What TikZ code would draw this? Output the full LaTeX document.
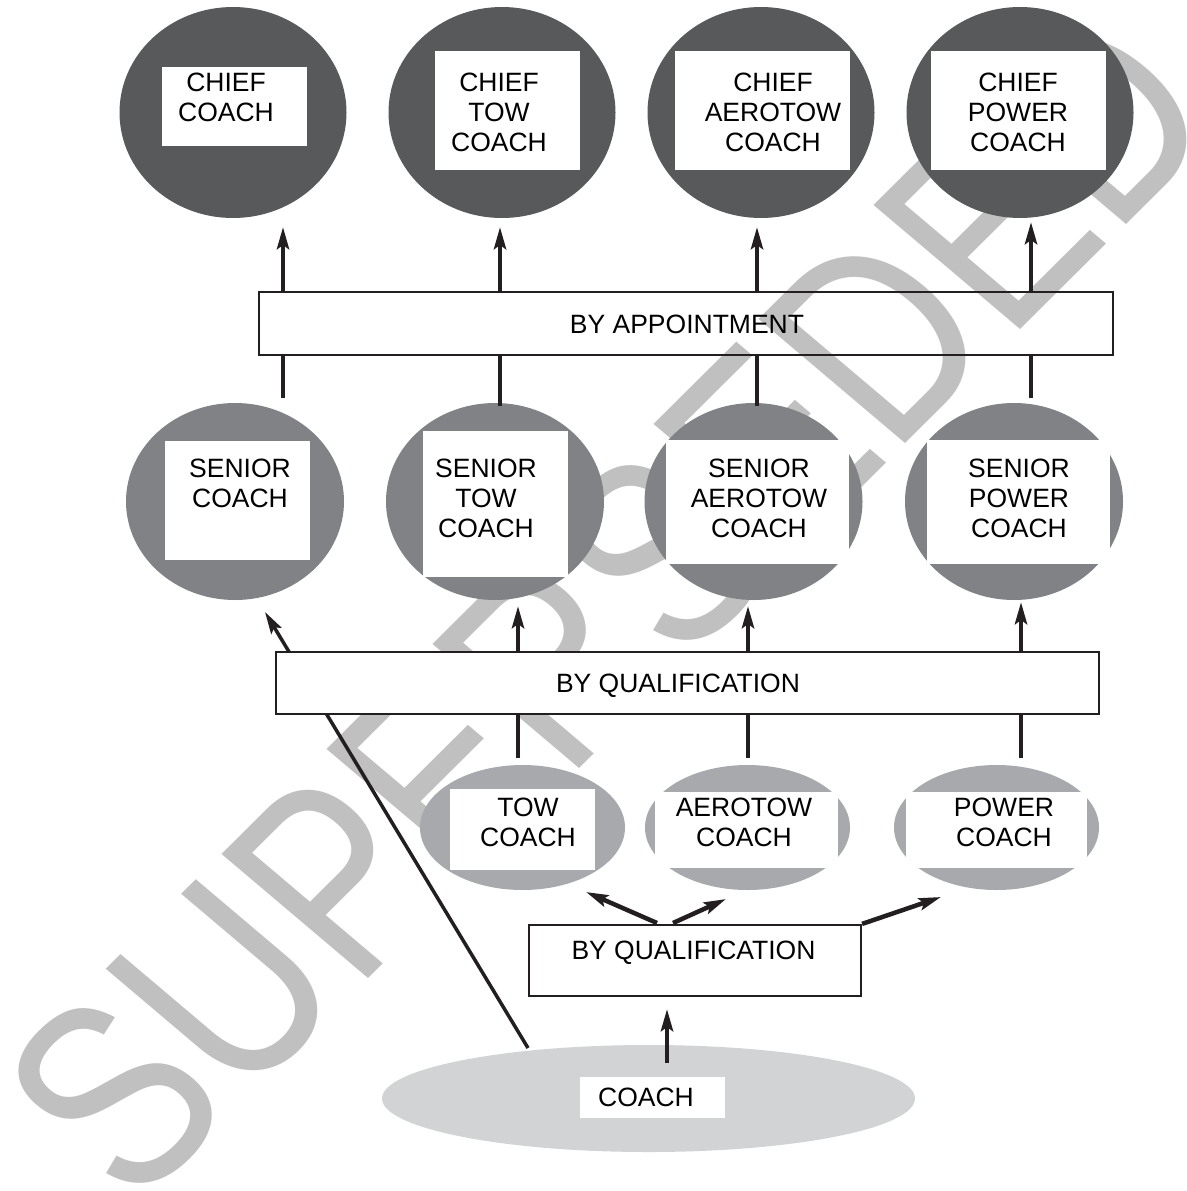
\documentclass[tikz,border=0pt]{standalone}
\usepackage{fontspec}
\setmainfont{Liberation Sans}
\usetikzlibrary{shapes.geometric,arrows.meta}
\definecolor{chiefc}{HTML}{58595B}
\definecolor{seniorc}{HTML}{808285}
\definecolor{lowc}{HTML}{A7A9AC}
\definecolor{coachc}{HTML}{D1D3D4}
\definecolor{wmc}{HTML}{C0C0C0}
\definecolor{ink}{HTML}{231F20}
\begin{document}
\begin{tikzpicture}[x=1pt,y=-1pt,
  wm/.style={cm={0.5966,0.5931,-0.8010,0.6782,(0,0)},text=wmc,inner sep=0,font=\fontsize{266}{266}\selectfont},
  blob/.style={ellipse,inner sep=0,draw=none},
  chief/.style={blob,fill=chiefc,minimum width=227pt,minimum height=211pt},
  senior/.style={blob,fill=seniorc,minimum width=218pt,minimum height=197pt},
  low/.style={blob,fill=lowc,minimum width=205pt,minimum height=125pt},
  base/.style={blob,fill=coachc,minimum width=533pt,minimum height=107pt},
  wbox/.style={rectangle,fill=white,draw=none,inner sep=0},
  frame/.style={rectangle,draw=ink,line width=2.5pt,inner sep=0},
  txt/.style={inner sep=0,align=center,text=black,font=\fontsize{26.5}{30}\selectfont},
  ln/.style={draw=ink,line width=4.5pt},
  arr/.style={ln,-{Stealth[length=22pt,width=12pt,inset=4pt]}},
  diag/.style={draw=ink,line width=3.5pt,-{Stealth[length=22pt,width=12pt,inset=4pt]}}
]
\fill[white] (0,0) rectangle (1186,1191);
\useasboundingbox (0,0) rectangle (1186,1191);

% watermark
\node[wm] (wmk) at (608,605) {SUPERSEDED};

% chief row
\node[chief] (c1) at (233,112.5) {};
\node[chief] (c2) at (502,112.5) {};
\node[chief] (c3) at (761,112.5) {};
\node[chief] (c4) at (1020,112.5) {};
\node[wbox,minimum width=145pt,minimum height=79pt] (c1b) at (234.5,106.5) {};
\node[wbox,minimum width=145pt,minimum height=119pt] (c2b) at (507.5,110.5) {};
\node[wbox,minimum width=175pt,minimum height=119pt] (c3b) at (762.5,110.5) {};
\node[wbox,minimum width=175pt,minimum height=119pt] (c4b) at (1018.5,110.5) {};
\node[txt] (c1t) at (226,97) {CHIEF\\COACH};
\node[txt] (c2t) at (499,112) {CHIEF\\TOW\\COACH};
\node[txt] (c3t) at (773,112) {CHIEF\\AEROTOW\\COACH};
\node[txt] (c4t) at (1018,112) {CHIEF\\POWER\\COACH};

% by appointment
\node[frame,minimum width=854pt,minimum height=63pt] (apt) at (686,323.5) {};
\node[txt] (aptt) at (687,324) {BY APPOINTMENT};

% senior row
\node[senior] (s1) at (235,501.5) {};
\node[senior] (s2) at (495,501.5) {};
\node[senior] (s3) at (753.5,501.5) {};
\node[senior] (s4) at (1014,501.5) {};
\node[wbox,minimum width=145pt,minimum height=119pt] (s1b) at (237.5,500.5) {};
\node[wbox,minimum width=145pt,minimum height=146pt] (s2b) at (495.5,504) {};
\node[wbox,minimum width=183pt,minimum height=124pt] (s3b) at (757.5,502) {};
\node[wbox,minimum width=183pt,minimum height=124pt] (s4b) at (1018.5,502) {};
\node[txt] (s1t) at (240,483) {SENIOR\\COACH};
\node[txt] (s2t) at (486,498) {SENIOR\\TOW\\COACH};
\node[txt] (s3t) at (759,498) {SENIOR\\AEROTOW\\COACH};
\node[txt] (s4t) at (1019,498) {SENIOR\\POWER\\COACH};

% appointment connectors
\coordinate (ua1) at (283,227);
\coordinate (ua2) at (500,227);
\coordinate (ua3) at (757,227);
\coordinate (ua4) at (1031,222);
\coordinate (la1) at (283,398);
\coordinate (la2) at (500,406);
\coordinate (la3) at (757,406);
\coordinate (la4) at (1031,398);
\foreach \i in {1,2,3,4}{
  \draw[arr] (apt.north -| ua\i) -- (ua\i);
  \draw[ln] (la\i) -- (apt.south -| la\i);
}

% lower row
\node[low] (tow) at (522.5,827.5) {};
\node[low] (aero) at (747.5,827.5) {};
\node[low] (pow) at (996.5,827.5) {};
\node[wbox,minimum width=145pt,minimum height=81pt] (towb) at (522.5,829.5) {};
\node[wbox,minimum width=183pt,minimum height=76pt] (aerob) at (746.5,830) {};
\node[wbox,minimum width=181pt,minimum height=76pt] (powb) at (996.5,830) {};
\node[txt] (towt) at (528,822) {TOW\\COACH};
\node[txt] (aerot) at (744,822) {AEROTOW\\COACH};
\node[txt] (powt) at (1004,822) {POWER\\COACH};

% base coach
\node[base] (coach) at (648.5,1098.5) {};
\node[wbox,minimum width=145pt,minimum height=41pt] (coachb) at (652.5,1097.5) {};
\node[txt] (coacht) at (646,1097) {COACH};

% diagonal from coach to senior coach (behind qualification box)
\coordinate (dstart) at (528,1048);
\coordinate (dtip) at (265,612);
\draw[diag] (dstart) -- (dtip);

% upper qualification
\node[frame,fill=white,minimum width=823pt,minimum height=62pt] (qu) at (687.5,683) {};
\node[txt] (qut) at (678,686) {BY QUALIFICATION};
\coordinate (uq2) at (518,606);
\coordinate (uq3) at (748,606);
\coordinate (uq4) at (1021,602);
\coordinate (lq2) at (518,758);
\coordinate (lq3) at (748,758);
\coordinate (lq4) at (1021,758);
\foreach \i in {2,3,4}{
  \draw[arr] (qu.north -| uq\i) -- (uq\i);
  \draw[ln] (lq\i) -- (qu.south -| lq\i);
}

% lower qualification
\node[frame,line width=2.2pt,minimum width=332pt,minimum height=71pt] (ql) at (695,960.5) {};
\node[txt] (qlt) at (693.5,953) {BY QUALIFICATION};
\coordinate (t1s) at (657,923);
\coordinate (t1e) at (586,892);
\coordinate (t2s) at (673,923);
\coordinate (t2e) at (726,899);
\coordinate (t3e) at (941,897);
\draw[arr] (t1s) -- (t1e);
\draw[arr] (t2s) -- (t2e);
\draw[arr] (ql.north east) -- (t3e);
\coordinate (cs) at (667,1063);
\coordinate (ce) at (667,1009);
\draw[arr] (cs) -- (ce);
\end{tikzpicture}
\end{document}
